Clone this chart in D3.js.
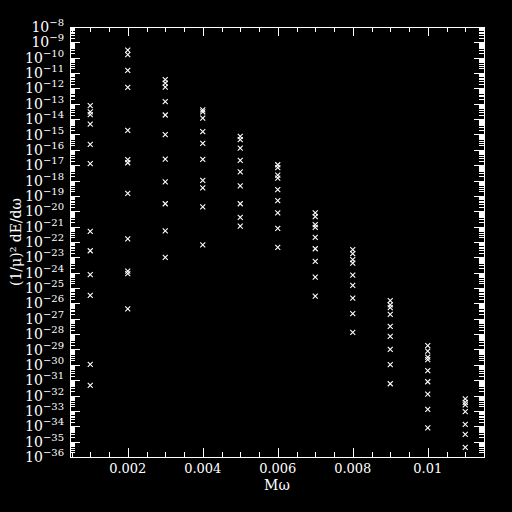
<!DOCTYPE html>
<html>
<head>
<meta charset="utf-8">
<script src="https://cdn.jsdelivr.net/npm/d3@7"></script>
<style>
  body { margin: 0; background: #000; }
  svg { display: block; }
  text { fill: #fff; font-family: "DejaVu Serif", serif; }
</style>
</head>
<body>
<div id="chart"></div>
<script>
// frequencies (M omega) of each column
const freqs = [0.001, 0.002, 0.003, 0.004, 0.005, 0.006, 0.007, 0.008, 0.009, 0.010, 0.011];

// log10 of (1/mu)^2 dE/domega, one array per column
const col001 = [-13.12, -13.52, -13.71, -14.32, -15.64, -16.90, -21.31, -22.57, -24.13, -25.48, -29.97, -31.34];
const col002 = [-9.51, -9.80, -10.83, -11.93, -14.73, -16.64, -16.84, -18.84, -21.80, -23.90, -24.06, -26.36];
const col003 = [-11.43, -11.65, -11.91, -12.86, -13.73, -15.01, -16.60, -18.09, -19.51, -21.28, -23.00];
const col004 = [-13.39, -13.53, -13.93, -14.82, -15.58, -16.62, -17.99, -18.48, -19.72, -22.18];
const col005 = [-15.12, -15.34, -15.88, -16.69, -17.44, -18.35, -19.51, -20.40, -20.96];
const col006 = [-16.97, -17.16, -17.65, -17.84, -18.59, -19.31, -20.11, -21.11, -22.35];
const col007 = [-20.11, -20.35, -20.87, -21.05, -21.70, -22.44, -23.26, -24.28, -25.52];
const col008 = [-22.50, -22.76, -23.15, -23.38, -24.15, -24.83, -25.65, -26.67, -27.89];
const col009 = [-25.82, -26.10, -26.28, -26.71, -27.50, -28.15, -28.99, -29.99, -31.23];
const col010 = [-28.75, -29.11, -29.50, -29.66, -30.38, -31.10, -31.90, -32.90, -34.11];
const col011 = [-32.22, -32.44, -32.61, -33.05, -33.88, -34.53, -35.38];

const columns = [col001, col002, col003, col004, col005, col006, col007, col008, col009, col010, col011];

const xTicks = [0.002, 0.004, 0.006, 0.008, 0.01];
const xTickLabels = ['0.002', '0.004', '0.006', '0.008', '0.01'];

const width = 512;
const height = 512;
const mLeft = 70, mRight = 484, mTop = 27, mBottom = 457;

const svg = d3.select('#chart')
    .append('svg')
    .attr('width', width)
    .attr('height', height)
    .style('background', '#000');

const x = d3.scaleLinear().domain([0.00046, 0.0115]).range([mLeft, mRight]);
const y = d3.scaleLog().domain([1e-8, 1e-36]).range([mTop, mBottom]);

// points
const points = [];
columns.forEach((col, i) => col.forEach(e => points.push({ f: freqs[i], v: Math.pow(10, e) })));

svg.append('g')
    .selectAll('path')
    .data(points)
    .join('path')
    .attr('transform', d => `translate(${x(d.f)},${y(d.v)})`)
    .attr('d', 'M-2.5,-2.5L2.5,2.5M-2.5,2.5L2.5,-2.5')
    .attr('stroke', '#fff')
    .attr('stroke-width', 1.1)
    .attr('fill', 'none');

// ticks
const ticks = svg.append('g').attr('stroke', '#fff').attr('stroke-width', 1);

const xMinor = d3.range(0.0005, 0.0115, 0.0005);
xMinor.forEach(t => {
    const major = Math.abs(t / 0.002 - Math.round(t / 0.002)) < 1e-6;
    const len = major ? 9 : 5;
    const px = Math.round(x(t)) + 0.5;
    ticks.append('line').attr('x1', px).attr('x2', px).attr('y1', mBottom).attr('y2', mBottom - len);
    ticks.append('line').attr('x1', px).attr('x2', px).attr('y1', mTop).attr('y2', mTop + len);
});

for (let e = -36; e <= -8; e++) {
    const py = Math.round(y(Math.pow(10, e))) + 0.5;
    ticks.append('line').attr('x1', mLeft).attr('x2', mLeft + 10).attr('y1', py).attr('y2', py);
    ticks.append('line').attr('x1', mRight).attr('x2', mRight - 10).attr('y1', py).attr('y2', py);
    if (e < -8) {
        for (let m = 2; m <= 9; m++) {
            const pm = Math.round(y(m * Math.pow(10, e))) + 0.5;
            ticks.append('line').attr('x1', mLeft).attr('x2', mLeft + 5).attr('y1', pm).attr('y2', pm);
            ticks.append('line').attr('x1', mRight).attr('x2', mRight - 5).attr('y1', pm).attr('y2', pm);
        }
    }
}

// frame
svg.append('rect')
    .attr('x', mLeft + 0.5).attr('y', mTop + 0.5)
    .attr('width', mRight - mLeft).attr('height', mBottom - mTop)
    .attr('fill', 'none').attr('stroke', '#fff').attr('stroke-width', 1);

// y tick labels
for (let e = -36; e <= -8; e++) {
    const t = svg.append('text')
        .attr('x', 64)
        .attr('y', y(Math.pow(10, e)) + 5)
        .attr('text-anchor', 'end')
        .attr('font-size', 14);
    t.append('tspan').text('10');
    t.append('tspan').attr('font-size', 10).attr('dy', -6).text('\u2212' + (-e));
}

// x tick labels
xTicks.forEach((t, i) => {
    svg.append('text')
        .attr('x', x(t))
        .attr('y', 473)
        .attr('text-anchor', 'middle')
        .attr('font-size', 13)
        .text(xTickLabels[i]);
});

// axis titles
svg.append('text')
    .attr('x', 277)
    .attr('y', 490)
    .attr('text-anchor', 'middle')
    .attr('font-size', 14)
    .text('M\u03c9');

svg.append('text')
    .attr('transform', 'translate(21,242) rotate(-90)')
    .attr('text-anchor', 'middle')
    .attr('font-size', 14)
    .text('(1/\u03bc)\u00b2 dE/d\u03c9');
</script>
</body>
</html>
